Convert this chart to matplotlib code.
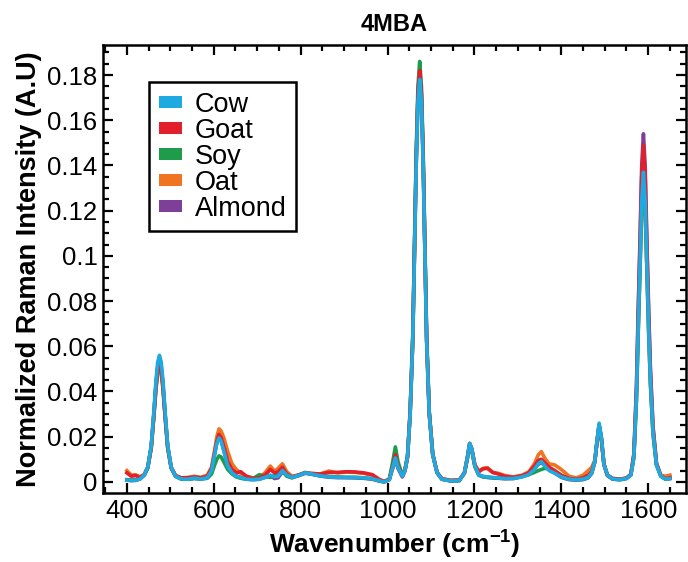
import matplotlib
matplotlib.use("Agg")
import matplotlib.pyplot as plt
from matplotlib.patches import Patch
from matplotlib.ticker import MultipleLocator

plt.rcParams['font.family'] = ['Liberation Sans', 'DejaVu Sans']
plt.rcParams['mathtext.fontset'] = 'custom'
plt.rcParams['mathtext.rm'] = 'Liberation Sans'
plt.rcParams['mathtext.bf'] = 'Liberation Sans:bold'

# wavenumber grid (cm-1)
wavenumber = [
    400, 410, 420, 430, 440, 448, 456, 462, 467, 471,
    475, 479, 483, 488, 494, 502, 512, 525, 540, 555,
    570, 585, 595, 602, 607, 612, 617, 624, 632, 642,
    652, 662, 675, 690, 705, 718, 730, 740, 748, 758,
    768, 780, 795, 810, 825, 845, 865, 885, 905, 925,
    945, 965, 980, 992, 1004, 1012, 1018, 1024, 1034, 1040,
    1046, 1052, 1058, 1062, 1066, 1070, 1074, 1078, 1082, 1086,
    1090, 1096, 1104, 1114, 1125, 1145, 1165, 1177, 1184, 1189,
    1194, 1201, 1210, 1220, 1230, 1242, 1255, 1270, 1290, 1310,
    1325, 1338, 1347, 1354, 1362, 1372, 1385, 1400, 1418, 1435,
    1450, 1462, 1470, 1477, 1482, 1487, 1492, 1498, 1506, 1518,
    1535, 1550, 1560, 1567, 1573, 1577, 1581, 1585, 1589, 1593,
    1597, 1601, 1605, 1611, 1619, 1629, 1640, 1650,
]

cow = [
    0.0008, 0.0006, 0.0007, 0.0013, 0.003, 0.0065, 0.016, 0.031, 0.045, 0.053,
    0.056, 0.053, 0.045, 0.031, 0.016, 0.0065, 0.0025, 0.0013, 0.0012, 0.0017,
    0.0013, 0.0018, 0.005, 0.012, 0.017, 0.0195, 0.018, 0.013, 0.007, 0.004,
    0.0025, 0.002, 0.0012, 0.001, 0.0012, 0.002, 0.003, 0.0022, 0.0025, 0.005,
    0.003, 0.002, 0.0028, 0.004, 0.0035, 0.0027, 0.0022, 0.002, 0.002, 0.002,
    0.0018, 0.0014, 0.0006, 0.0, 0.001, 0.0065, 0.0106, 0.0065, 0.0025, 0.005,
    0.011, 0.030, 0.062, 0.100, 0.140, 0.168, 0.178, 0.168, 0.140, 0.100,
    0.062, 0.030, 0.012, 0.004, 0.0012, 0.0005, 0.0006, 0.004, 0.011, 0.017,
    0.0145, 0.007, 0.0032, 0.0025, 0.0022, 0.002, 0.0018, 0.0015, 0.0015, 0.0022,
    0.0032, 0.0055, 0.008, 0.009, 0.007, 0.005, 0.0038, 0.0022, 0.0012, 0.001,
    0.0012, 0.002, 0.004, 0.009, 0.018, 0.026, 0.020, 0.008, 0.003, 0.0013,
    0.001, 0.0015, 0.003, 0.011, 0.038, 0.068, 0.095, 0.124, 0.137, 0.124,
    0.095, 0.068, 0.045, 0.022, 0.0075, 0.0025, 0.0012, 0.0015,
]

goat = [
    0.004, 0.0025, 0.0028, 0.002, 0.0032, 0.0065, 0.0155, 0.0295, 0.0425, 0.050,
    0.053, 0.050, 0.0425, 0.0295, 0.0155, 0.0065, 0.0028, 0.0018, 0.0018, 0.0022,
    0.0018, 0.0025, 0.006, 0.013, 0.018, 0.021, 0.0195, 0.015, 0.009, 0.0055,
    0.004, 0.0045, 0.0025, 0.0015, 0.0018, 0.003, 0.0055, 0.004, 0.0045, 0.0065,
    0.0035, 0.0022, 0.003, 0.004, 0.0037, 0.0035, 0.0042, 0.0042, 0.0045, 0.0044,
    0.004, 0.0032, 0.0012, 0.0002, 0.0012, 0.0072, 0.012, 0.0072, 0.0025, 0.005,
    0.0112, 0.0305, 0.063, 0.102, 0.143, 0.172, 0.182, 0.172, 0.143, 0.102,
    0.063, 0.0305, 0.0122, 0.0042, 0.0014, 0.0007, 0.0008, 0.004, 0.011, 0.017,
    0.0145, 0.0075, 0.0045, 0.0058, 0.006, 0.0042, 0.0035, 0.0025, 0.002, 0.0028,
    0.004, 0.007, 0.0095, 0.010, 0.0085, 0.0065, 0.005, 0.003, 0.0015, 0.0012,
    0.0018, 0.003, 0.0045, 0.009, 0.0175, 0.025, 0.0195, 0.008, 0.003, 0.0015,
    0.0012, 0.0017, 0.0033, 0.012, 0.041, 0.074, 0.103, 0.135, 0.149, 0.135,
    0.103, 0.074, 0.049, 0.024, 0.008, 0.0027, 0.0014, 0.0018,
]

soy = [
    0.001, 0.0008, 0.0009, 0.0014, 0.003, 0.006, 0.015, 0.029, 0.042, 0.049,
    0.052, 0.049, 0.042, 0.029, 0.015, 0.006, 0.0025, 0.0013, 0.0012, 0.0015,
    0.0013, 0.0016, 0.0035, 0.0075, 0.010, 0.0115, 0.011, 0.0085, 0.0055, 0.0035,
    0.0022, 0.0016, 0.0012, 0.0015, 0.0032, 0.0025, 0.002, 0.0028, 0.003, 0.005,
    0.0025, 0.0018, 0.003, 0.0042, 0.0035, 0.0028, 0.0024, 0.0022, 0.002, 0.002,
    0.0018, 0.0014, 0.0006, 0.0, 0.0012, 0.009, 0.0155, 0.009, 0.0028, 0.0055,
    0.0115, 0.031, 0.065, 0.105, 0.146, 0.175, 0.186, 0.175, 0.146, 0.105,
    0.065, 0.031, 0.0125, 0.0042, 0.0012, 0.0005, 0.0006, 0.0038, 0.0105, 0.016,
    0.0137, 0.0067, 0.003, 0.0022, 0.002, 0.0018, 0.0017, 0.0016, 0.0018, 0.0025,
    0.0032, 0.0042, 0.005, 0.0055, 0.006, 0.0058, 0.0042, 0.0022, 0.0012, 0.001,
    0.0012, 0.002, 0.004, 0.0088, 0.0175, 0.025, 0.0195, 0.0078, 0.003, 0.0013,
    0.001, 0.0015, 0.003, 0.011, 0.037, 0.067, 0.094, 0.122, 0.135, 0.122,
    0.094, 0.067, 0.044, 0.022, 0.0075, 0.0025, 0.0012, 0.0015,
]

oat = [
    0.005, 0.003, 0.0032, 0.0022, 0.0033, 0.0063, 0.0148, 0.0285, 0.041, 0.048,
    0.051, 0.048, 0.041, 0.0285, 0.0148, 0.0063, 0.0028, 0.0018, 0.002, 0.0025,
    0.002, 0.003, 0.0065, 0.014, 0.020, 0.0235, 0.0225, 0.019, 0.0135, 0.008,
    0.0055, 0.0038, 0.0025, 0.0018, 0.002, 0.004, 0.007, 0.0048, 0.006, 0.008,
    0.0045, 0.0025, 0.003, 0.004, 0.0038, 0.0035, 0.0048, 0.004, 0.0043, 0.0042,
    0.0038, 0.003, 0.0012, 0.0001, 0.0012, 0.0068, 0.011, 0.0068, 0.0026, 0.005,
    0.011, 0.030, 0.062, 0.1005, 0.141, 0.169, 0.179, 0.169, 0.141, 0.1005,
    0.062, 0.030, 0.012, 0.0042, 0.0014, 0.0007, 0.0008, 0.0042, 0.011, 0.017,
    0.0145, 0.0075, 0.0048, 0.006, 0.0063, 0.0042, 0.0038, 0.0028, 0.0022, 0.003,
    0.0045, 0.008, 0.012, 0.0134, 0.0105, 0.008, 0.0075, 0.0055, 0.0025, 0.0018,
    0.003, 0.005, 0.0065, 0.0095, 0.0175, 0.025, 0.0195, 0.008, 0.003, 0.0016,
    0.0012, 0.0017, 0.0032, 0.0106, 0.0366, 0.0655, 0.0915, 0.119, 0.132, 0.119,
    0.0915, 0.0655, 0.0435, 0.021, 0.0075, 0.003, 0.0025, 0.003,
]

almond = [
    0.0008, 0.0006, 0.0007, 0.0013, 0.003, 0.0063, 0.0155, 0.030, 0.0435, 0.051,
    0.054, 0.051, 0.0435, 0.030, 0.0155, 0.0063, 0.0025, 0.0013, 0.0012, 0.0016,
    0.0013, 0.0018, 0.005, 0.0125, 0.0175, 0.020, 0.0185, 0.0135, 0.0075, 0.0042,
    0.0026, 0.002, 0.0012, 0.001, 0.0012, 0.002, 0.0028, 0.0015, 0.0018, 0.0045,
    0.0028, 0.0019, 0.0027, 0.0038, 0.0034, 0.0026, 0.0021, 0.0019, 0.0019, 0.0018,
    0.0016, 0.0012, 0.0004, 0.0, 0.001, 0.006, 0.010, 0.006, 0.0022, 0.0048,
    0.011, 0.0305, 0.063, 0.1015, 0.1425, 0.171, 0.181, 0.171, 0.1425, 0.1015,
    0.063, 0.0305, 0.012, 0.004, 0.0012, 0.0004, 0.0005, 0.004, 0.011, 0.017,
    0.0145, 0.007, 0.003, 0.0023, 0.002, 0.0018, 0.0016, 0.0014, 0.0015, 0.0024,
    0.0035, 0.0058, 0.0078, 0.0085, 0.0072, 0.0055, 0.004, 0.002, 0.001, 0.0008,
    0.001, 0.0018, 0.0038, 0.0088, 0.0175, 0.025, 0.0195, 0.0078, 0.0028, 0.0012,
    0.001, 0.0016, 0.0034, 0.0124, 0.0427, 0.0764, 0.1068, 0.1394, 0.154, 0.1394,
    0.1068, 0.0764, 0.0506, 0.0247, 0.0084, 0.0028, 0.0012, 0.0015,
]

labels = ['Cow', 'Goat', 'Soy', 'Oat', 'Almond']
series = [cow, goat, soy, oat, almond]
colors = ['#1FA9E1', '#E2202B', '#1E9B4B', '#F07523', '#7E3F98']

for s in series:
    assert len(s) == len(wavenumber)

fig = plt.figure(figsize=(6.88, 5.62), dpi=100)
ax = fig.add_axes([0.1497, 0.1228, 0.8474, 0.798])

# cow is drawn last so it sits on top, like in the original
for name, ys, col in reversed(list(zip(labels, series, colors))):
    ax.plot(wavenumber, ys, color=col, linewidth=2.6, solid_joinstyle='round')

ax.set_xlim(345, 1687)
ax.set_ylim(-0.0049, 0.1935)
ax.xaxis.set_major_locator(MultipleLocator(200))
ax.xaxis.set_minor_locator(MultipleLocator(50))
ax.yaxis.set_major_locator(MultipleLocator(0.02))
ax.yaxis.set_minor_locator(MultipleLocator(0.005))
ax.yaxis.set_major_formatter(plt.FuncFormatter(lambda v, p: f'{v:g}' if abs(v) > 1e-9 else '0'))

ax.tick_params(which='both', direction='in', top=True, right=True, width=1.6)
ax.tick_params(which='major', length=7, labelsize=18.5, pad=4)
ax.tick_params(which='minor', length=4)
for sp in ax.spines.values():
    sp.set_linewidth(1.8)

ax.set_title('4MBA', fontsize=17, fontweight='bold', pad=10)
ax.set_xlabel(r'Wavenumber (cm$^{\mathbf{-1}}$)', fontsize=19, fontweight='bold', labelpad=3)
ax.set_ylabel('Normalized Raman Intensity (A.U)', fontsize=19.5, fontweight='bold', labelpad=4)

handles = [Patch(facecolor=c, edgecolor='none') for c in colors]
leg = ax.legend(handles, labels, loc='upper left', bbox_to_anchor=(0.079, 0.916),
                borderaxespad=0, fontsize=19.5, frameon=True, fancybox=False,
                edgecolor='black', framealpha=1, handlelength=0.85, handleheight=0.32,
                handletextpad=0.5, labelspacing=0.0, borderpad=0.35)
leg.get_frame().set_linewidth(1.8)

fig.savefig('out.png', dpi=100)
